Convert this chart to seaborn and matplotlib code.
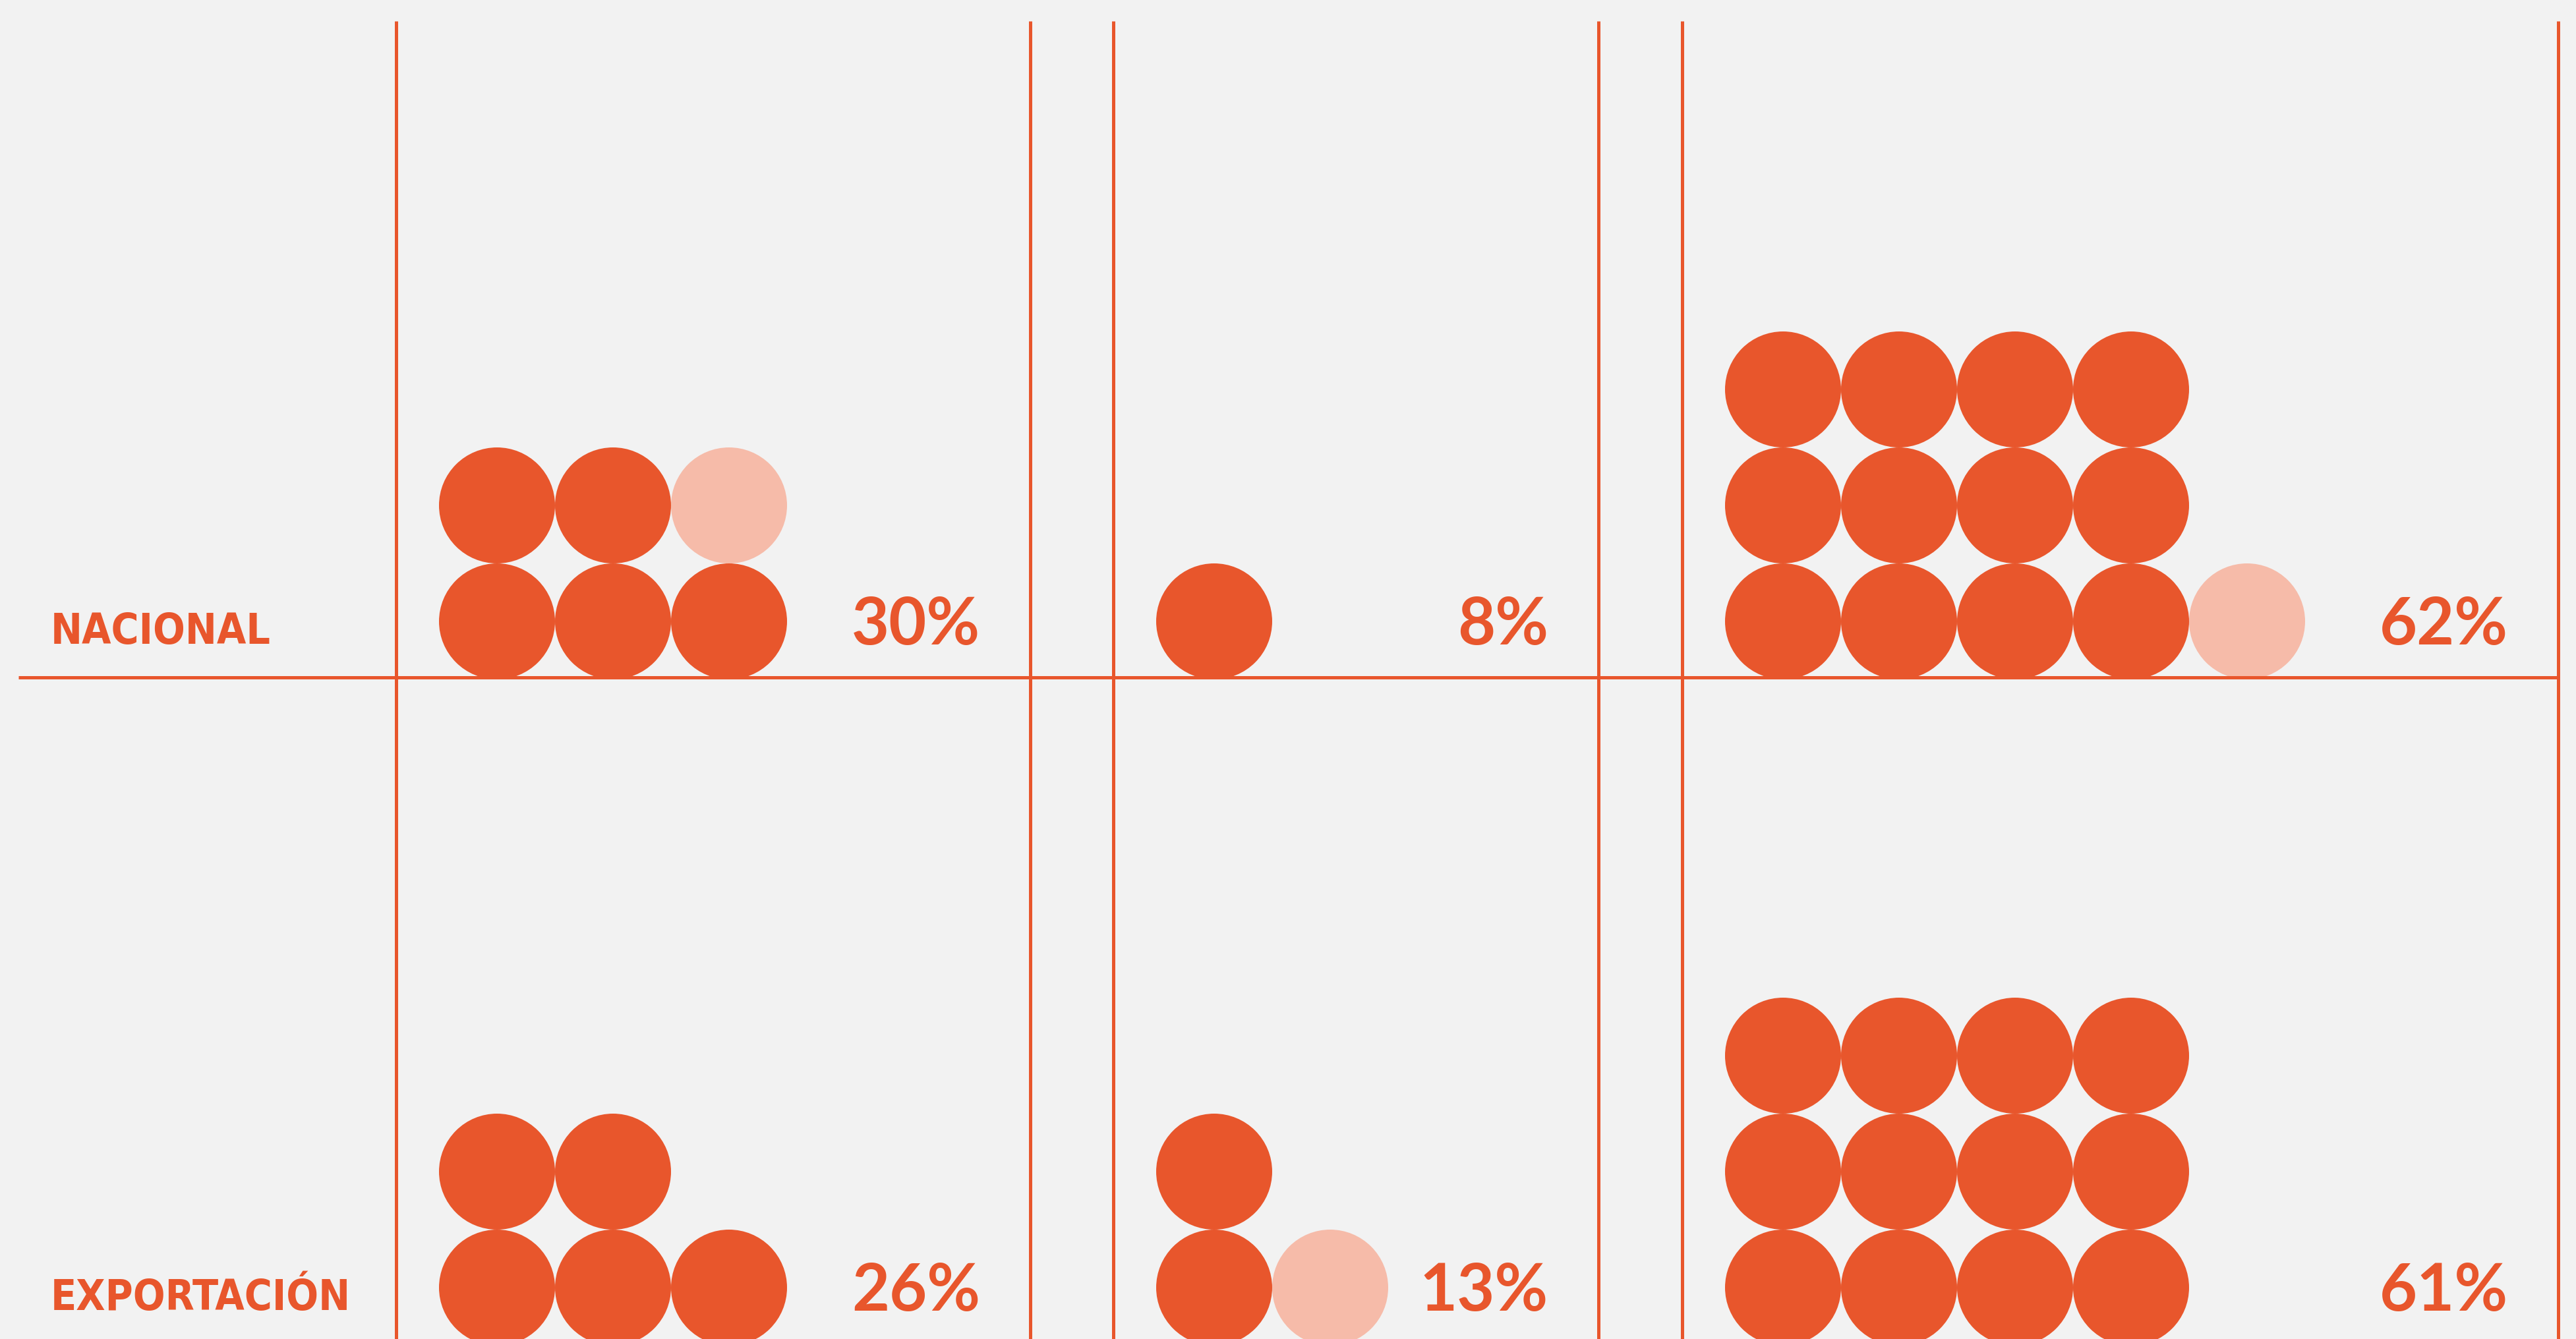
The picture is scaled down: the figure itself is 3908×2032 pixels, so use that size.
import pandas as pd
import matplotlib.pyplot as plt
import seaborn as sns

# Values
row_labels = ["NACIONAL", "EXPORTACIÓN"]
pct_nacional = [30, 8, 62]
pct_exportacion = [26, 13, 61]
full_nacional = [5, 1, 12]
light_nacional = [1, 0, 1]
full_exportacion = [5, 2, 12]
light_exportacion = [0, 1, 0]
per_column = [2, 2, 3]   # circles stacked per column in each panel

ORANGE = "#E8562C"
LIGHT = "#F6BBA9"
BG = "#F2F2F2"

# Layout (pixels)
W, H, DPI = 3908, 2032, 100
panel_left = [601, 1689, 2552]
panel_right = [1563, 2425, 3881]
row_base = [1028, 2039]
cell = 176

# Build the table of circles
recs = []
for r, (full, light) in enumerate([(full_nacional, light_nacional),
                                   (full_exportacion, light_exportacion)]):
    for p in range(3):
        for k in range(full[p] + light[p]):
            col, lev = divmod(k, per_column[p])
            recs.append({
                "x": panel_left[p] + 153 + col * cell,
                "y": row_base[r] - 85 - lev * cell,
                "tipo": "full" if k < full[p] else "light",
            })
df = pd.DataFrame(recs)

sns.set_theme(style="white")
fig = plt.figure(figsize=(W / DPI, H / DPI), dpi=DPI, facecolor=BG)
ax = fig.add_axes([0, 0, 1, 1])
ax.set_facecolor(BG)
ax.set_xlim(0, W)
ax.set_ylim(H, 0)
ax.axis("off")

sns.scatterplot(data=df, x="x", y="y", hue="tipo",
                palette={"full": ORANGE, "light": LIGHT},
                s=(cell * 72 / DPI) ** 2, linewidth=0, legend=False,
                ax=ax, zorder=2)

# Grid lines
lw = 5 * 72 / DPI
for xv in panel_left + panel_right:
    ax.plot([xv, xv], [32, H + 20], color=ORANGE, lw=lw,
            solid_capstyle="butt", zorder=3)
ax.plot([28, 3881], [row_base[0], row_base[0]], color=ORANGE, lw=lw,
        solid_capstyle="butt", zorder=3)

# Texts
for r, pcts in enumerate([pct_nacional, pct_exportacion]):
    ax.text(77, row_base[r] - 51, row_labels[r], color=ORANGE,
            fontsize=46, fontweight="bold", fontstretch="condensed",
            family=["DejaVu Sans"],
            ha="left", va="baseline")
    for p in range(3):
        ax.text(panel_right[p] - 76, row_base[r] - 50, f"{pcts[p]}%",
                color=ORANGE, fontsize=71, fontweight="bold",
                family=["Lato", "DejaVu Sans"], ha="right", va="baseline")

fig.savefig("out.png", dpi=DPI, facecolor=BG)
